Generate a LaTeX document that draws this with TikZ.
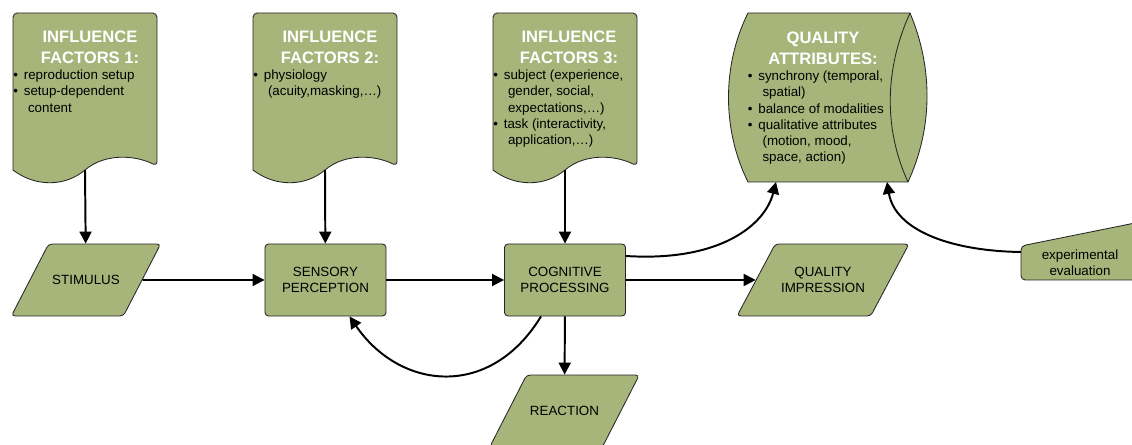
\documentclass[tikz,border=0pt]{standalone}
\usepackage{fontspec}
\setmainfont{Liberation Sans}
\usetikzlibrary{shapes.geometric,arrows.meta}
\definecolor{shapegreen}{RGB}{167,180,122}
\tikzset{
  box/.style={draw=black!85,line width=0.6pt,fill=shapegreen},
  proc/.style={box,rounded corners=2.5pt,minimum width=3.025cm,minimum height=1.8cm,align=center,inner sep=0pt,font=\fontsize{9.5}{11.2}\selectfont},
  io/.style={box,trapezium,trapezium left angle=65,trapezium right angle=115,trapezium stretches=true,rounded corners=2.5pt,align=center,inner xsep=0pt,inner ysep=22.2pt,font=\fontsize{9.5}{11.2}\selectfont},
  flow/.style={line width=1.4pt,-{Triangle[length=8.5pt,width=8.5pt]}},
  head/.style={white,font=\fontsize{11.8}{15}\selectfont\bfseries,align=center,inner sep=0pt},
  body/.style={font=\fontsize{9.5}{11.4}\selectfont,align=left,inner sep=0pt,anchor=north west},
}
\newcommand{\bul}{\makebox[7.5pt][l]{\textbullet}}
\newcommand{\cont}{\hspace*{10.5pt}}
\newcommand{\docbox}[2]{%
  \draw[box] (#1,170) [rounded corners=3pt] -- (#1,13) -- (#1+144,13) -- (#1+144,166) [sharp corners]
    .. controls (#1+122,155) and (#1+92,153) .. (#1+72,170)
    .. controls (#1+52,187) and (#1+22,187) .. (#1,170) -- cycle;
  \coordinate (#2) at (#1+72,170);}
\begin{document}
\begin{tikzpicture}[x=0.025cm,y=-0.025cm]
\useasboundingbox (0,0) rectangle (1132,445);
\clip (0,0) rectangle (1132,445);
\docbox{13}{if1}
\docbox{253}{if2}
\docbox{493}{if3}
\draw[box] (748,13) -- (910,13) .. controls (934,70) and (932,130) .. (908,182) -- (748,182)
  .. controls (722,130) and (722,65) .. (748,13) -- cycle;
\draw[box,fill=none] (910,13) .. controls (884,70) and (884,130) .. (908,182);
\coordinate (qaL) at (776,182);
\coordinate (qaR) at (887,182);
\node[head] (h1) at (90,47.5) {INFLUENCE\\FACTORS 1:};
\node[head] (h2) at (330,47.5) {INFLUENCE\\FACTORS 2:};
\node[head] (h3) at (569,47.5) {INFLUENCE\\FACTORS 3:};
\node[head] (h4) at (823,48.5) {QUALITY\\ATTRIBUTES:};
\node[body] (b1) at (13,70) {\bul reproduction setup\\\bul setup-dependent\\\cont content};
\node[body] (b2) at (253,70) {\bul physiology\\\cont(acuity,masking,…)};
\node[body] (b3) at (493,70) {\bul subject (experience,\\\cont gender, social,\\\cont expectations,…)\\\bul task (interactivity,\\\cont application,…)};
\node[body] (b4) at (747.5,71) {\bul synchrony (temporal,\\\cont spatial)\\\bul balance of modalities\\\bul qualitative attributes\\\cont(motion, mood,\\\cont space, action)};
\node[io,minimum width=3.75cm] (stim) at (86,280) {STIMULUS};
\node[proc] (sens) at (325.5,280) {SENSORY\\PERCEPTION};
\node[proc] (cog) at (565,280) {COGNITIVE\\PROCESSING};
\node[io,minimum width=4.3cm,inner ysep=16.6pt] (qimp) at (823,280) {QUALITY\\IMPRESSION};
\node[io,minimum width=3.75cm] (reac) at (564.5,411) {REACTION};
\draw[box,rounded corners=3pt] (1021,280) -- (1021,246) -- (1140,222) -- (1140,280) -- cycle;
\node[font=\fontsize{9.5}{11.2}\selectfont,align=center,inner sep=0pt] (expe) at (1080,263) {experimental\\evaluation};
\coordinate (expin) at (1021,252);
\draw[flow] (if1) -- (stim);
\draw[flow] (if2) -- (sens);
\draw[flow] (if3) -- (cog);
\draw[flow] (stim) -- (sens);
\draw[flow] (sens) -- (cog);
\draw[flow] (cog) -- (qimp);
\draw[flow] (cog) -- (reac);
\draw[flow] ([yshift=0.6cm]cog.east) .. controls (720,262) and (765,225) .. (qaL);
\draw[flow] ([xshift=-0.6cm]cog.south) .. controls (490,400) and (400,390) .. ([xshift=0.6cm]sens.south);
\draw[flow] (expin) .. controls (950,251) and (895,230) .. (qaR);
\end{tikzpicture}
\end{document}
